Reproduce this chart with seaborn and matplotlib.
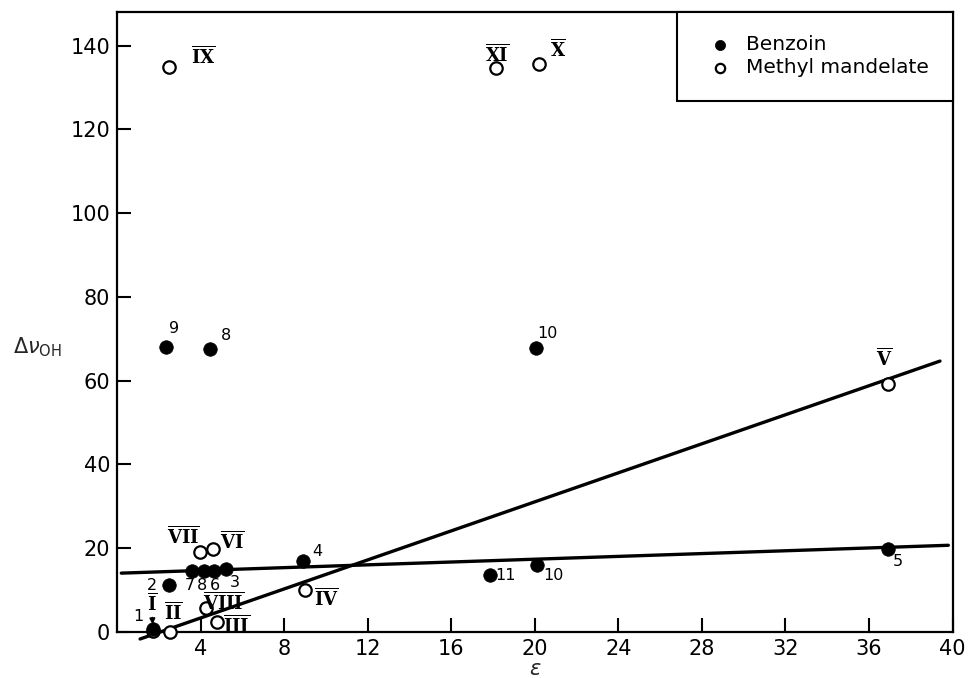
import numpy as np
import matplotlib
matplotlib.use('Agg')
import matplotlib.pyplot as plt
import seaborn as sns

# Benzoin (filled circles), numbered solvents
benzoin_ids = ['1', '2', '7', '8', '6', '3', '4', '9', '8', '10', '11', '10', '5']
benzoin_eps = [1.7, 2.5, 3.6, 4.15, 4.65, 5.2, 8.9, 2.33, 4.45, 20.05, 17.85, 20.1, 36.9]
benzoin_dnu = [0.8, 11.1, 14.5, 14.5, 14.6, 15.1, 16.9, 68.1, 67.5, 67.9, 13.6, 16.0, 19.7]

# Methyl mandelate (open circles), roman numbered solvents
mandelate_ids = ['I', 'II', 'III', 'IV', 'V', 'VI', 'VII', 'VIII', 'IX', 'X', 'XI']
mandelate_eps = [1.7, 2.55, 4.77, 9.0, 36.9, 4.61, 3.97, 4.26, 2.46, 20.2, 18.13]
mandelate_dnu = [0.3, 0.0, 2.4, 9.9, 59.2, 19.8, 19.0, 5.6, 134.8, 135.6, 134.6]

# straight lines drawn through the data: slope, intercept and x extent
benzoin_fit = [0.168, 14.0]
benzoin_fit_range = [0.2, 39.8]
mandelate_fit = [1.733, -3.6]
mandelate_fit_range = [1.1, 39.4]

# where the point labels sit (data coords)
benzoin_label_pos = [(1.0, 3.6), (1.66, 11.0), (3.5, 11.2), (4.05, 11.2), (4.69, 11.2),
                     (5.65, 11.9), (9.6, 19.3), (2.75, 72.5), (5.2, 70.7), (20.6, 71.3),
                     (18.6, 13.4), (20.9, 13.4), (37.4, 16.7)]
mandelate_label_pos = [(1.66, 6.8), (2.69, 4.6), (5.7, 1.6), (10.0, 8.0), (36.75, 65.2),
                       (5.49, 21.5), (3.17, 22.7), (5.09, 7.0), (4.1, 137.4), (21.1, 139.0),
                       (18.2, 138.0)]

sns.set_style('ticks')
plt.rcParams['font.family'] = ['DejaVu Sans']
plt.rcParams['text.color'] = 'black'

fig, ax = plt.subplots(figsize=(9.68, 6.78), dpi=100)
fig.subplots_adjust(left=0.121, right=0.984, bottom=0.068, top=0.982)

# fitted lines
xb = np.array(benzoin_fit_range)
ax.plot(xb, benzoin_fit[0] * xb + benzoin_fit[1], color='black', lw=2.4, zorder=2)
xm = np.array(mandelate_fit_range)
ax.plot(xm, mandelate_fit[0] * xm + mandelate_fit[1], color='black', lw=2.4, zorder=2,
        clip_on=False)

sns.scatterplot(x=mandelate_eps, y=mandelate_dnu, ax=ax, color='white', s=80,
                edgecolor='black', linewidth=1.6, zorder=3, clip_on=False,
                label='Methyl mandelate')
sns.scatterplot(x=benzoin_eps, y=benzoin_dnu, ax=ax, color='black', s=95,
                edgecolor='black', linewidth=0.5, zorder=4, clip_on=False,
                label='Benzoin')

for lab, (tx, ty) in zip(benzoin_ids, benzoin_label_pos):
    ax.text(tx, ty, lab, fontsize=11.5, ha='center', va='center', color='black', zorder=5)

for lab, (tx, ty), px, py in zip(mandelate_ids, mandelate_label_pos, mandelate_eps, mandelate_dnu):
    txt = r'$\overline{\mathbf{%s}}$' % lab
    if lab == 'I':
        ax.annotate(txt, xy=(px, py + 1.5), xytext=(tx, ty), fontsize=13,
                    ha='center', va='center', math_fontfamily='dejavuserif',
                    arrowprops=dict(arrowstyle='-|>', lw=1.2, color='black',
                                    shrinkA=5, shrinkB=0, mutation_scale=8),
                    zorder=5)
    else:
        ax.text(tx, ty, txt, fontsize=13, ha='center', va='center',
                math_fontfamily='dejavuserif', color='black', zorder=5)

ax.set_xlim(0, 40)
ax.set_ylim(0, 148)
ax.set_xticks(np.arange(4, 41, 4))
ax.set_yticks(np.arange(0, 141, 20))
ax.tick_params(direction='in', length=10, width=1.5, labelsize=15, pad=5, colors='black')
for sp in ax.spines.values():
    sp.set_visible(True)
    sp.set_linewidth(1.6)
    sp.set_color('black')

ax.set_xlabel(r'$\epsilon$', fontsize=15, va='center')
ax.xaxis.set_label_coords(0.5, -0.06)
ax.set_ylabel(r'$\Delta\nu_{\rm OH}$', rotation=0, fontsize=15, ha='center', va='center')
ax.yaxis.set_label_coords(-0.095, 0.46)

handles, labels = ax.get_legend_handles_labels()
leg = ax.legend(handles[::-1], labels[::-1], loc='upper right', bbox_to_anchor=(1, 1),
                borderaxespad=0, frameon=True, fancybox=False, edgecolor='black',
                fontsize=14.5, borderpad=1.15, labelspacing=0.2, handletextpad=0.3,
                handlelength=2.0, markerscale=0.75)
leg.get_frame().set_linewidth(1.5)
leg.get_frame().set_alpha(1)
for t in leg.get_texts():
    t.set_color('black')

plt.savefig('out.png', dpi=100)
plt.close()
